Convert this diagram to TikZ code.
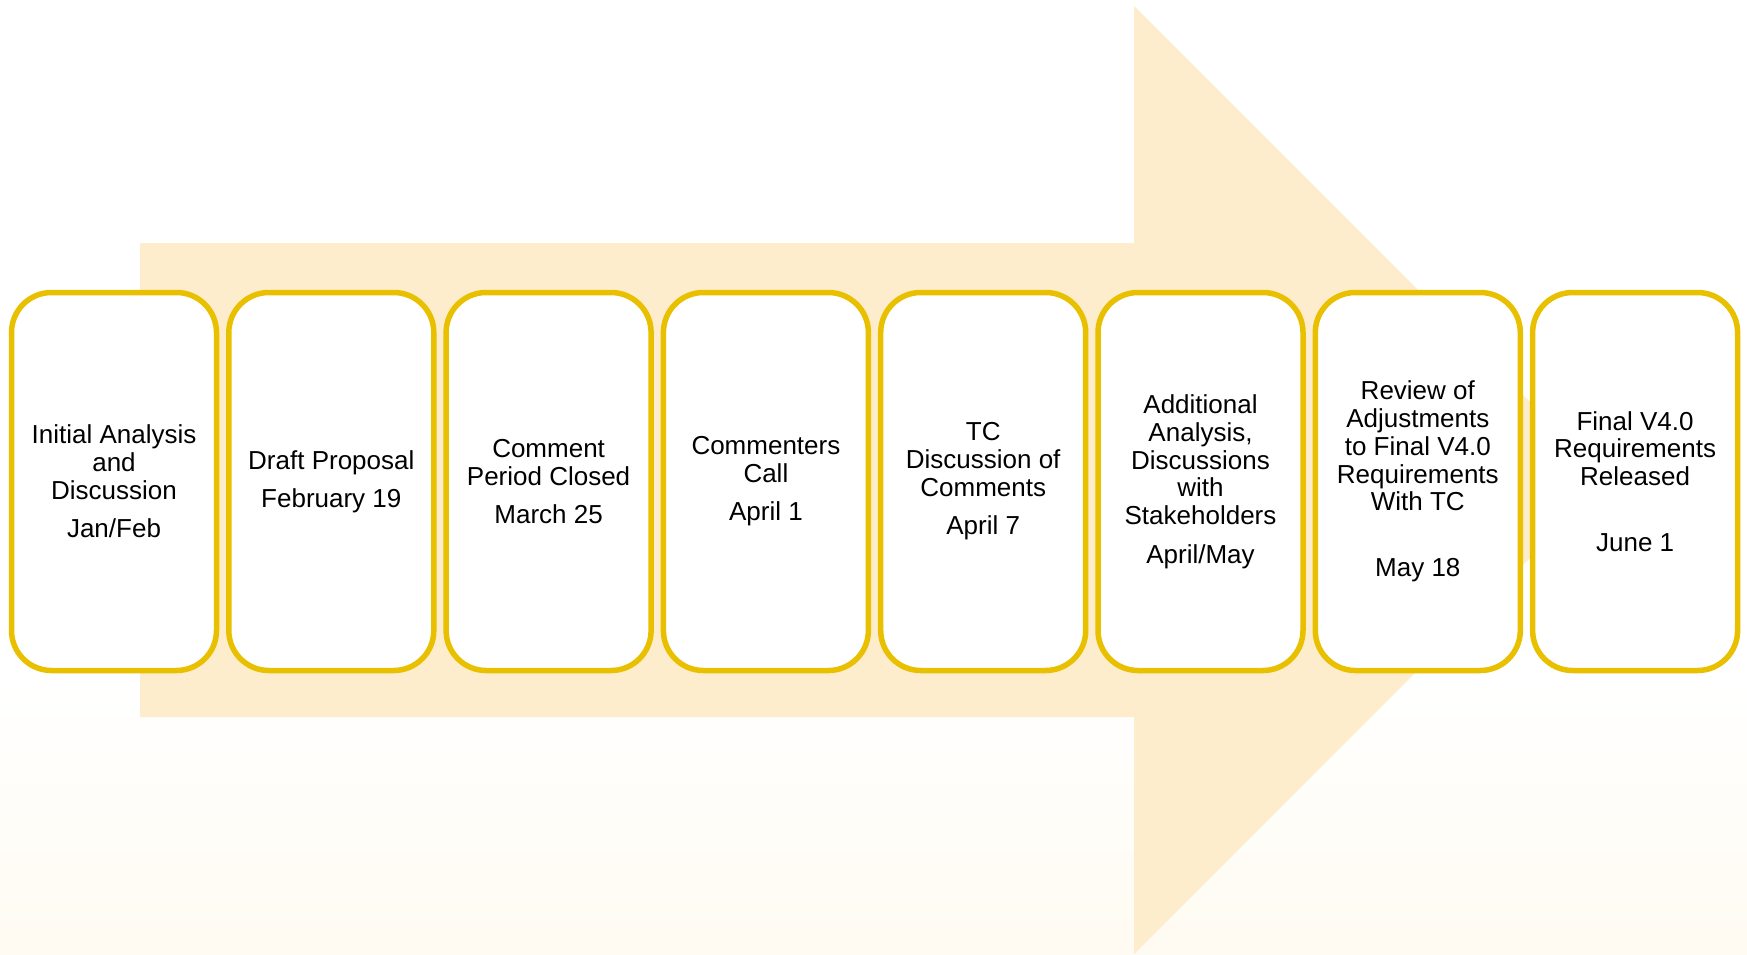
\documentclass[tikz,border=0pt]{standalone}
\usepackage{fontspec}
\setmainfont{Liberation Sans}
\definecolor{arrowfill}{RGB}{253,237,204}
\definecolor{stageedge}{RGB}{232,192,0}
\definecolor{paper}{RGB}{255,251,242}
\begin{document}
\begin{tikzpicture}[x=1pt, y=-1pt,
		stage/.style={draw=stageedge, line width=5.5pt, fill=white, rounded corners=40pt,
			minimum width=205pt, minimum height=378pt, align=center,
			font=\fontsize{26}{27.8}\selectfont}]
		\useasboundingbox (0,0) rectangle (1747,954);
		
		% Soft background towards the bottom
		\shade[top color=white, bottom color=paper] (0,680) rectangle (1747,954);
		
		% Big arrow behind the stages
		\fill[arrowfill] (140,243) -- (1134,243) -- (1134,6) -- (1608,480)
			-- (1134,954) -- (1134,717) -- (140,717) -- cycle;
		
		% Stages of the timeline
		\node[stage] (S1) at (114,481.5) {Initial Analysis\\and\\Discussion\\[10.6pt]Jan/Feb};
		\node[stage] (S2) at (331.3,481.5) {Draft Proposal\\[10.6pt]February 19};
		\node[stage] (S3) at (548.6,481.5) {Comment\\Period Closed\\[10.6pt]March 25};
		\node[stage] (S4) at (765.9,481.5) {Commenters\\Call\\[10.6pt]April 1};
		\node[stage] (S5) at (983.2,481.5) {TC\\Discussion of\\Comments\\[10.6pt]April 7};
		\node[stage] (S6) at (1200.5,481.5) {Additional\\Analysis,\\Discussions\\with\\Stakeholders\\[10.6pt]April/May};
		\node[stage] (S7) at (1417.8,481.5) {Review of\\Adjustments\\to Final V4.0\\Requirements\\With TC\\[38pt]May 18};
		\node[stage] (S8) at (1635.1,481.5) {Final V4.0\\Requirements\\Released\\[38pt]June 1};
	\end{tikzpicture}
\end{document}
